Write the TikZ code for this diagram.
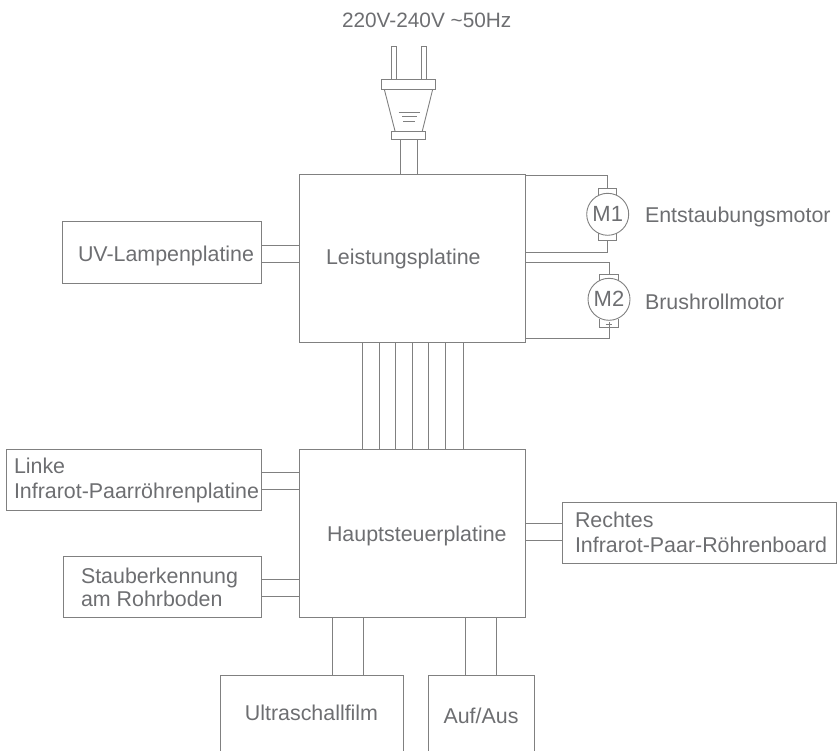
\documentclass[tikz,border=0pt]{standalone}
\usepackage{fontspec}
\setmainfont{Liberation Sans}
\definecolor{wire}{HTML}{808080}
\definecolor{ink}{HTML}{6D6E71}
\tikzset{
  x=1pt,y=-1pt,
  wireline/.style={draw=wire,line width=.9pt},
  boxnode/.style={wireline,rectangle,inner sep=0pt,outer sep=0pt,anchor=north west},
  openbox/.style={rectangle,inner sep=0pt,outer sep=0pt,anchor=north west},
  lab/.style={text=ink,inner sep=0pt,outer sep=0pt,anchor=base west,font=\fontsize{21.4}{25}\selectfont},
  labc/.style={lab,anchor=base},
  motor/.style={circle,wireline,minimum size=42pt,inner sep=0pt,outer sep=0pt,text=ink,font=\fontsize{22}{25}\selectfont}
}
\newcommand{\bx}[6][boxnode]{\node[#1,minimum width=#5pt,minimum height=#6pt] (#2) at (#3,#4) {};}
\begin{document}
\begin{tikzpicture}[wireline]
\useasboundingbox (0,0) rectangle (837,751);
% boxes
\bx{power}{299}{174}{226}{168}
\bx{main}{299}{449}{226}{168}
\bx{uv}{62.7}{221.7}{199}{61.6}
\bx{linke}{6}{449}{255.7}{61}
\bx{staub}{63}{556}{198.7}{61}
\bx{recht}{562.3}{502.7}{274}{61}
\bx[openbox]{ultra}{220.7}{675}{182.6}{76}
\bx[openbox]{auf}{428}{675}{106.7}{76}
\draw (ultra.south west) |- (ultra.north east) -- (ultra.south east);
\draw (auf.south west) |- (auf.north east) -- (auf.south east);
% guide coordinates
\coordinate (uvA) at (280,245.3); \coordinate (uvB) at (280,262);
\coordinate (liA) at (280,472.7); \coordinate (liB) at (280,489);
\coordinate (stA) at (280,579.7); \coordinate (stB) at (280,596);
\coordinate (reA) at (540,523.3); \coordinate (reB) at (540,540);
\coordinate (ulA) at (332.3,650); \coordinate (ulB) at (363.7,650);
\coordinate (auA) at (465.7,650); \coordinate (auB) at (496.7,650);
\draw (uv.east |- uvA) -- (power.west |- uvA);
\draw (uv.east |- uvB) -- (power.west |- uvB);
\draw (linke.east |- liA) -- (main.west |- liA);
\draw (linke.east |- liB) -- (main.west |- liB);
\draw (staub.east |- stA) -- (main.west |- stA);
\draw (staub.east |- stB) -- (main.west |- stB);
\draw (main.east |- reA) -- (recht.west |- reA);
\draw (main.east |- reB) -- (recht.west |- reB);
\draw (main.south -| ulA) -- (ultra.north -| ulA);
\draw (main.south -| ulB) -- (ultra.north -| ulB);
\draw (main.south -| auA) -- (auf.north -| auA);
\draw (main.south -| auB) -- (auf.north -| auB);
% bus between boards
\foreach \n/\x in {a/362,b/379,c/395.7,d/412.3,e/428.3,f/445,g/463}{
  \coordinate (bus\n) at (\x,400);
  \draw (power.south -| bus\n) -- (main.north -| bus\n);
}
% plug
\node[boxnode,minimum width=54pt,minimum height=10pt] (flangeT) at (381.7,79.3) {};
\node[boxnode,minimum width=34pt,minimum height=8.3pt] (flangeB) at (391.7,131) {};
\node[boxnode,minimum width=4.6pt,minimum height=32.6pt] (prongL) at (391.7,46.7) {};
\node[boxnode,minimum width=4.6pt,minimum height=32.6pt] (prongR) at (421.7,46.7) {};
\draw (384.3,89.3) -- (395,131) (432.7,89.3) -- (422.3,131);
\draw[line width=.8pt] (398.7,112.3) -- (420,112.3) (402,116.7) -- (416.7,116.7) (403.3,121.3) -- (415,121.3);
\coordinate (cordL) at (400.7,160); \coordinate (cordR) at (417.3,160);
\draw (flangeB.south -| cordL) -- (power.north -| cordL);
\draw (flangeB.south -| cordR) -- (power.north -| cordR);
% motor 1
\node[motor] (m1) at (607.7,214.3) {M1};
\draw (598.3,195.5) |- (616,188.3) -- (616,195.5);
\draw (598.3,233.5) |- (616,240.7) -- (616,233.5);
\coordinate (m1t) at (607.7,188.3); \coordinate (m1b) at (607.7,240.7);
\coordinate (m1tp) at (560,175.3); \coordinate (m1bp) at (560,252.7);
\draw (power.east |- m1tp) -| (m1t);
\draw (power.east |- m1bp) -| (m1b);
% motor 2
\node[motor] (m2) at (609,299.3) {M2};
\draw (599.7,281) |- (618,274) -- (618,281);
\draw (599.7,319) |- (618,327.3) -- (618,319);
\draw[line width=.8pt] (605.7,278) -- (612.3,278) (605.7,324) -- (612.3,324);
\coordinate (m2t) at (609,274); \coordinate (m2b) at (609,322);
\coordinate (m2tp) at (560,262.3); \coordinate (m2bp) at (560,338);
\draw (power.east |- m2tp) -| (m2t);
\draw (power.east |- m2bp) -| (m2b);
% labels
\node[lab,font=\fontsize{20.8}{25}\selectfont] (tsup) at (342,28) {220V-240V \textasciitilde50Hz};
\node[lab] (tpow) at (326,265) {Leistungsplatine};
\node[lab] (tuv) at (78,261) {UV-Lampenplatine};
\node[lab] (tm1) at (645,223) {Entstaubungsmotor};
\node[lab] (tm2) at (645,309) {Brushrollmotor};
\node[lab] (tli1) at (14,473) {Linke};
\node[lab] (tli2) at (14,498) {Infrarot-Paarröhrenplatine};
\node[lab] (tmain) at (327,541) {Hauptsteuerplatine};
\node[lab] (tre1) at (575,527) {Rechtes};
\node[lab] (tre2) at (575,552) {Infrarot-Paar-Röhrenboard};
\node[lab] (tst1) at (81,583) {Stauberkennung};
\node[lab] (tst2) at (81,606) {am Rohrboden};
\node[labc] (tul) at (311.5,720) {Ultraschallfilm};
\node[labc] (tau) at (481,723) {Auf/Aus};
\end{tikzpicture}
\end{document}
